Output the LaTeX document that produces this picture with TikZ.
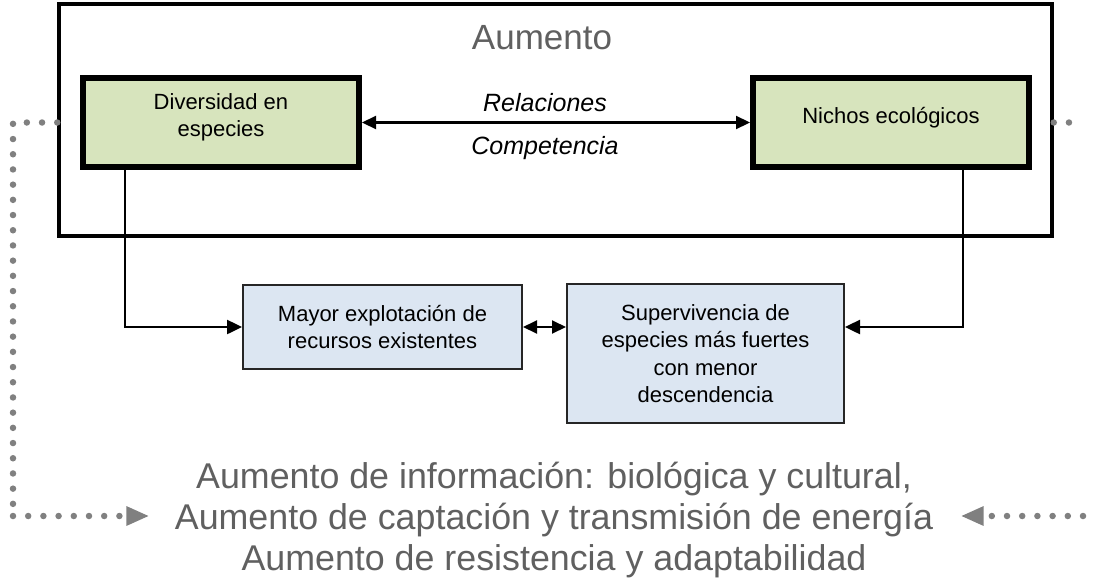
\documentclass[tikz,border=0pt]{standalone}
\usepackage{fontspec}
\setmainfont{Liberation Sans}
\usetikzlibrary{arrows.meta,calc}
\definecolor{greenfill}{HTML}{D7E4BD}
\definecolor{bluefill}{HTML}{DCE6F2}
\definecolor{dotgray}{HTML}{808080}
\definecolor{txtgray}{HTML}{606060}
\tikzset{
  outerbox/.style={draw=black, line width=3.5pt, inner sep=0pt, minimum width=993pt, minimum height=232pt},
  greenbox/.style={draw=black, line width=6pt, fill=greenfill, inner sep=0pt, minimum width=276pt, minimum height=89pt},
  bluebox/.style={draw=black!85, line width=2pt, fill=bluefill, inner sep=0pt, align=center, font=\fontsize{22}{27.5}\selectfont},
  boxtext/.style={align=center, font=\fontsize{22}{27.5}\selectfont},
  conn/.style={line width=2.5pt, -{Triangle[length=15pt,width=14pt]}},
  dconn/.style={line width=2.2pt, {Triangle[length=14pt,width=13pt]}-{Triangle[length=14pt,width=13pt]}},
  dotline/.style={dotgray, line width=6.5pt, dash pattern=on 0pt off 15.2pt, line cap=round},
  dottip/.style={-{Triangle[length=23pt,width=18pt]}},
  lbl/.style={font=\fontsize{25}{29}\selectfont\itshape, anchor=base, inner sep=0pt}
}
\begin{document}
\begin{tikzpicture}[x=1pt,y=-1pt]
\useasboundingbox (0,0) rectangle (1094,581);
\node[outerbox] (outer) at (555.5,120) {};
\node[anchor=base, text=txtgray, font=\fontsize{35}{41}\selectfont] (title) at (542,49) {Aumento};
\node[greenbox, label={[boxtext, yshift=5pt]center:Diversidad en\\especies}] (div) at (221,122.5) {};
\node[greenbox, label={[boxtext, yshift=5pt]center:Nichos ecológicos}] (nic) at (891,122.5) {};
\draw[dconn] (div.east) -- node[lbl, xshift=-11pt, yshift=11.5pt] (rel) {Relaciones} node[lbl, xshift=-11pt, yshift=-31.5pt] (comp) {Competencia} (nic.west);
\node[bluebox, minimum width=279pt, minimum height=84pt] (may) at (382.5,327) {Mayor explotación de\\recursos existentes};
\node[bluebox, minimum width=277pt, minimum height=139pt] (sup) at (705.5,353.5) {Supervivencia de\\especies más fuertes\\con menor\\descendencia};
\draw[conn] ([xshift=45pt]div.south west) |- (may.west);
\draw[conn] ([xshift=-69pt]nic.south east) |- (sup.east |- may.east);
\draw[dconn, line width=2pt] (may.east) -- (sup.west |- may.east);
\node[text=txtgray, align=center, font=\fontsize{35.8}{41}\selectfont] (txt) at (554,520)
  {Aumento de información: biológica y cultural,\\Aumento de captación y transmisión de energía\\Aumento de resistencia y adaptabilidad};
\coordinate (lc) at (13,122.5);
\coordinate (lb) at ([yshift=4pt]lc |- txt.west);
\coordinate (rt) at (1083,122.5);
\coordinate (rb) at ([yshift=4pt]rt |- txt.east);
\draw[dotline] (outer.west |- div.west) -- (lc) -- (lb);
\draw[dotline, dottip] (lb) -- ([xshift=-22pt,yshift=4pt]txt.west);
\draw[dotline] (outer.east |- nic.east) -- (rt);
\draw[dotline, dottip] (rb) -- ([xshift=24pt,yshift=4pt]txt.east);
\end{tikzpicture}
\end{document}
